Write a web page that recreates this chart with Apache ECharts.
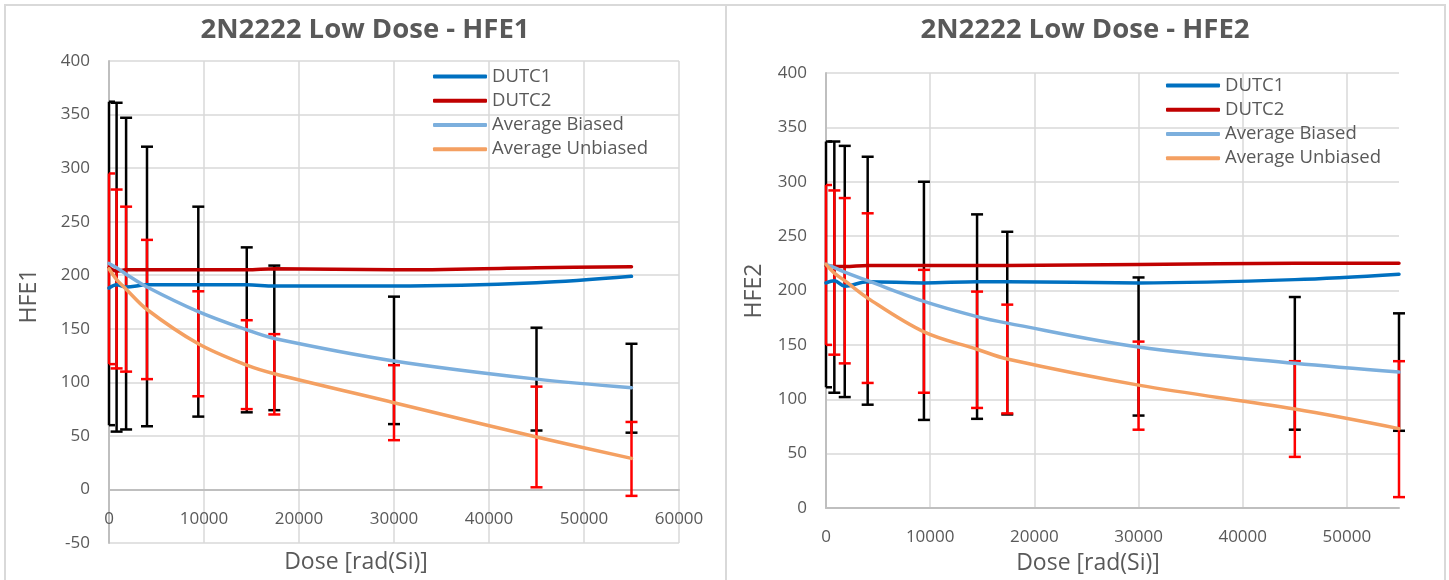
<!DOCTYPE html>
<html>
<head>
<meta charset="utf-8">
<script src="https://cdn.jsdelivr.net/npm/echarts@6/dist/echarts.min.js"></script>
<style>
html,body{margin:0;padding:0;background:#fff;}
#c{width:1449px;height:580px;}
</style>
</head>
<body>
<div id="c"></div>
<script>
// ---------- data ----------
const doses = [0, 800, 1800, 4000, 9400, 14500, 17400, 30000, 45000, 55000];
const seriesNames = ['DUTC1', 'DUTC2', 'Average Biased', 'Average Unbiased'];

// HFE1 chart
const hfe1_dutc1 = [188, 191, 189, 191, 191, 191, 190, 190, 193, 199];
const hfe1_dutc2 = [207, 204, 205, 205, 205, 205, 206, 205, 207, 208];
const hfe1_biased = [211, 207, 201, 189, 166, 149, 141, 120, 103, 95];
const hfe1_unbiased = [206, 196, 187, 168, 136, 116, 108, 81, 49, 29];
const hfe1_biasedLow = [60, 54, 56, 59, 68, 72, 74, 61, 55, 53];
const hfe1_biasedHigh = [362, 361, 347, 320, 264, 226, 209, 180, 151, 136];
const hfe1_unbiasedLow = [117, 113, 110, 103, 87, 75, 70, 46, 2, -6];
const hfe1_unbiasedHigh = [295, 280, 264, 233, 185, 158, 145, 116, 96, 63];

// HFE2 chart
const hfe2_dutc1 = [207, 209, 204, 208, 207, 208, 208, 207, 210, 215];
const hfe2_dutc2 = [223, 222, 222, 223, 223, 223, 223, 224, 225, 225];
const hfe2_biased = [224, 221, 217, 209, 190, 176, 170, 148, 133, 125];
const hfe2_unbiased = [224, 216, 209, 193, 162, 146, 137, 113, 91, 73];
const hfe2_biasedLow = [111, 106, 102, 95, 81, 82, 86, 85, 72, 71];
const hfe2_biasedHigh = [337, 337, 333, 323, 300, 270, 254, 212, 194, 179];
const hfe2_unbiasedLow = [150, 141, 133, 115, 106, 92, 87, 72, 47, 10];
const hfe2_unbiasedHigh = [297, 292, 285, 271, 219, 199, 187, 153, 135, 135];

const titles = ['2N2222 Low Dose - HFE1', '2N2222 Low Dose - HFE2'];
const xName = 'Dose [rad(Si)]';
const yNames = ['HFE1', 'HFE2'];

// ---------- styling ----------
const FONT = '"Open Sans", "Noto Sans", sans-serif';
const TXT = '#595959';
const GRIDC = '#d9d9d9';
const AXISC = '#bfbfbf';
const colors = ['#0070c0', '#c00000', '#7cafdd', '#f4a062'];

function pairs(ys) { return doses.map((d, i) => [d, ys[i]]); }
function triples(lo, hi) { return doses.map((d, i) => [d, lo[i], hi[i]]); }

function errSeries(idx, lo, hi, color, z) {
  return {
    type: 'custom', xAxisIndex: idx, yAxisIndex: idx, z: z, clip: false,
    encode: { x: 0, y: [1, 2] },
    data: triples(lo, hi),
    silent: true,
    renderItem: function (params, api) {
      const x = api.value(0);
      const p1 = api.coord([x, api.value(1)]);
      const p2 = api.coord([x, api.value(2)]);
      const c = 6;
      const leftLim = params.coordSys.x;
      const st = { stroke: color, lineWidth: 2.5 };
      const cx0 = Math.max(p1[0] - c, leftLim);
      return {
        type: 'group',
        children: [
          { type: 'line', shape: { x1: p1[0], y1: p1[1], x2: p2[0], y2: p2[1] }, style: st },
          { type: 'line', shape: { x1: cx0, y1: p1[1], x2: p1[0] + c, y2: p1[1] }, style: st },
          { type: 'line', shape: { x1: cx0, y1: p2[1], x2: p2[0] + c, y2: p2[1] }, style: st }
        ]
      };
    }
  };
}

function lineSeries(idx, name, ys, color) {
  return {
    type: 'line', name: name, xAxisIndex: idx, yAxisIndex: idx,
    data: pairs(ys), smooth: 0.35, symbol: 'none', z: 5,
    lineStyle: { color: color, width: 3.5, cap: 'round' }, itemStyle: { color: color }
  };
}

function xAxis(idx, max, showMax, offset) {
  return {
    type: 'value', gridIndex: idx, min: 0, max: max, interval: 10000,
    offset: offset,
    axisLine: { onZero: false, lineStyle: { color: AXISC, width: 2 } },
    axisTick: { show: false },
    axisLabel: { color: TXT, fontFamily: FONT, fontSize: 17, margin: 21, showMaxLabel: showMax,
      formatter: function (v) { return String(v); } },
    splitLine: { show: true, showMaxLine: showMax, lineStyle: { color: GRIDC, width: 1.5 } }
  };
}
function yAxis(idx, min) {
  return {
    type: 'value', gridIndex: idx, min: min, max: 400, interval: 50,
    axisLine: { show: true, onZero: false, lineStyle: { color: AXISC, width: 2 } },
    axisTick: { show: false },
    axisLabel: { color: TXT, fontFamily: FONT, fontSize: 17, margin: 19 },
    splitLine: { show: true, lineStyle: { color: GRIDC, width: 1.5 } }
  };
}
function legend(left, top) {
  return {
    data: seriesNames, orient: 'vertical', left: left, top: top, padding: 0,
    icon: 'roundRect', itemWidth: 54, itemHeight: 4, itemGap: 0, selectedMode: false,
    textStyle: { color: TXT, fontFamily: FONT, fontSize: 18.5, lineHeight: 24.2 }
  };
}
function txt(x, y, text, size, bold, rot) {
  return {
    type: 'text', x: x, y: y, rotation: rot || 0, silent: true,
    style: {
      text: text, fill: TXT, font: (bold ? 'bold ' : '') + size + 'px ' + FONT,
      textAlign: 'center', textVerticalAlign: 'middle'
    }
  };
}

const option = {
  animation: false,
  backgroundColor: '#fff',
  grid: [
    { left: 109, top: 61, width: 570, height: 482 },
    { left: 826, top: 73, width: 573, height: 435 }
  ],
  xAxis: [xAxis(0, 60000, true, -53.5), xAxis(1, 55000, false, 0)],
  yAxis: [yAxis(0, -50), yAxis(1, 0)],
  legend: [legend(433, 64.5), legend(1166, 73.5)],
  graphic: [
    { type: 'rect', shape: { x: 5, y: 5, width: 721, height: 600 }, style: { fill: null, stroke: GRIDC, lineWidth: 2 }, silent: true, z: -10 },
    { type: 'rect', shape: { x: 726, y: 5, width: 719, height: 600 }, style: { fill: null, stroke: GRIDC, lineWidth: 2 }, silent: true, z: -10 },
    txt(365, 30, titles[0], 27.5, true),
    txt(1085, 30, titles[1], 27.5, true),
    txt(356, 562, xName, 23, false),
    txt(1088, 563, xName, 23, false),
    txt(29, 296, yNames[0], 23, false, Math.PI / 2),
    txt(754, 291, yNames[1], 23, false, Math.PI / 2)
  ],
  series: [
    errSeries(0, hfe1_biasedLow, hfe1_biasedHigh, '#000000', 2),
    errSeries(0, hfe1_unbiasedLow, hfe1_unbiasedHigh, '#ff0000', 3),
    lineSeries(0, seriesNames[0], hfe1_dutc1, colors[0]),
    lineSeries(0, seriesNames[1], hfe1_dutc2, colors[1]),
    lineSeries(0, seriesNames[2], hfe1_biased, colors[2]),
    lineSeries(0, seriesNames[3], hfe1_unbiased, colors[3]),
    errSeries(1, hfe2_biasedLow, hfe2_biasedHigh, '#000000', 2),
    errSeries(1, hfe2_unbiasedLow, hfe2_unbiasedHigh, '#ff0000', 3),
    lineSeries(1, seriesNames[0], hfe2_dutc1, colors[0]),
    lineSeries(1, seriesNames[1], hfe2_dutc2, colors[1]),
    lineSeries(1, seriesNames[2], hfe2_biased, colors[2]),
    lineSeries(1, seriesNames[3], hfe2_unbiased, colors[3])
  ]
};

const chart = echarts.init(document.getElementById('c'), null, { renderer: 'canvas' });
chart.setOption(option);
</script>
</body>
</html>
